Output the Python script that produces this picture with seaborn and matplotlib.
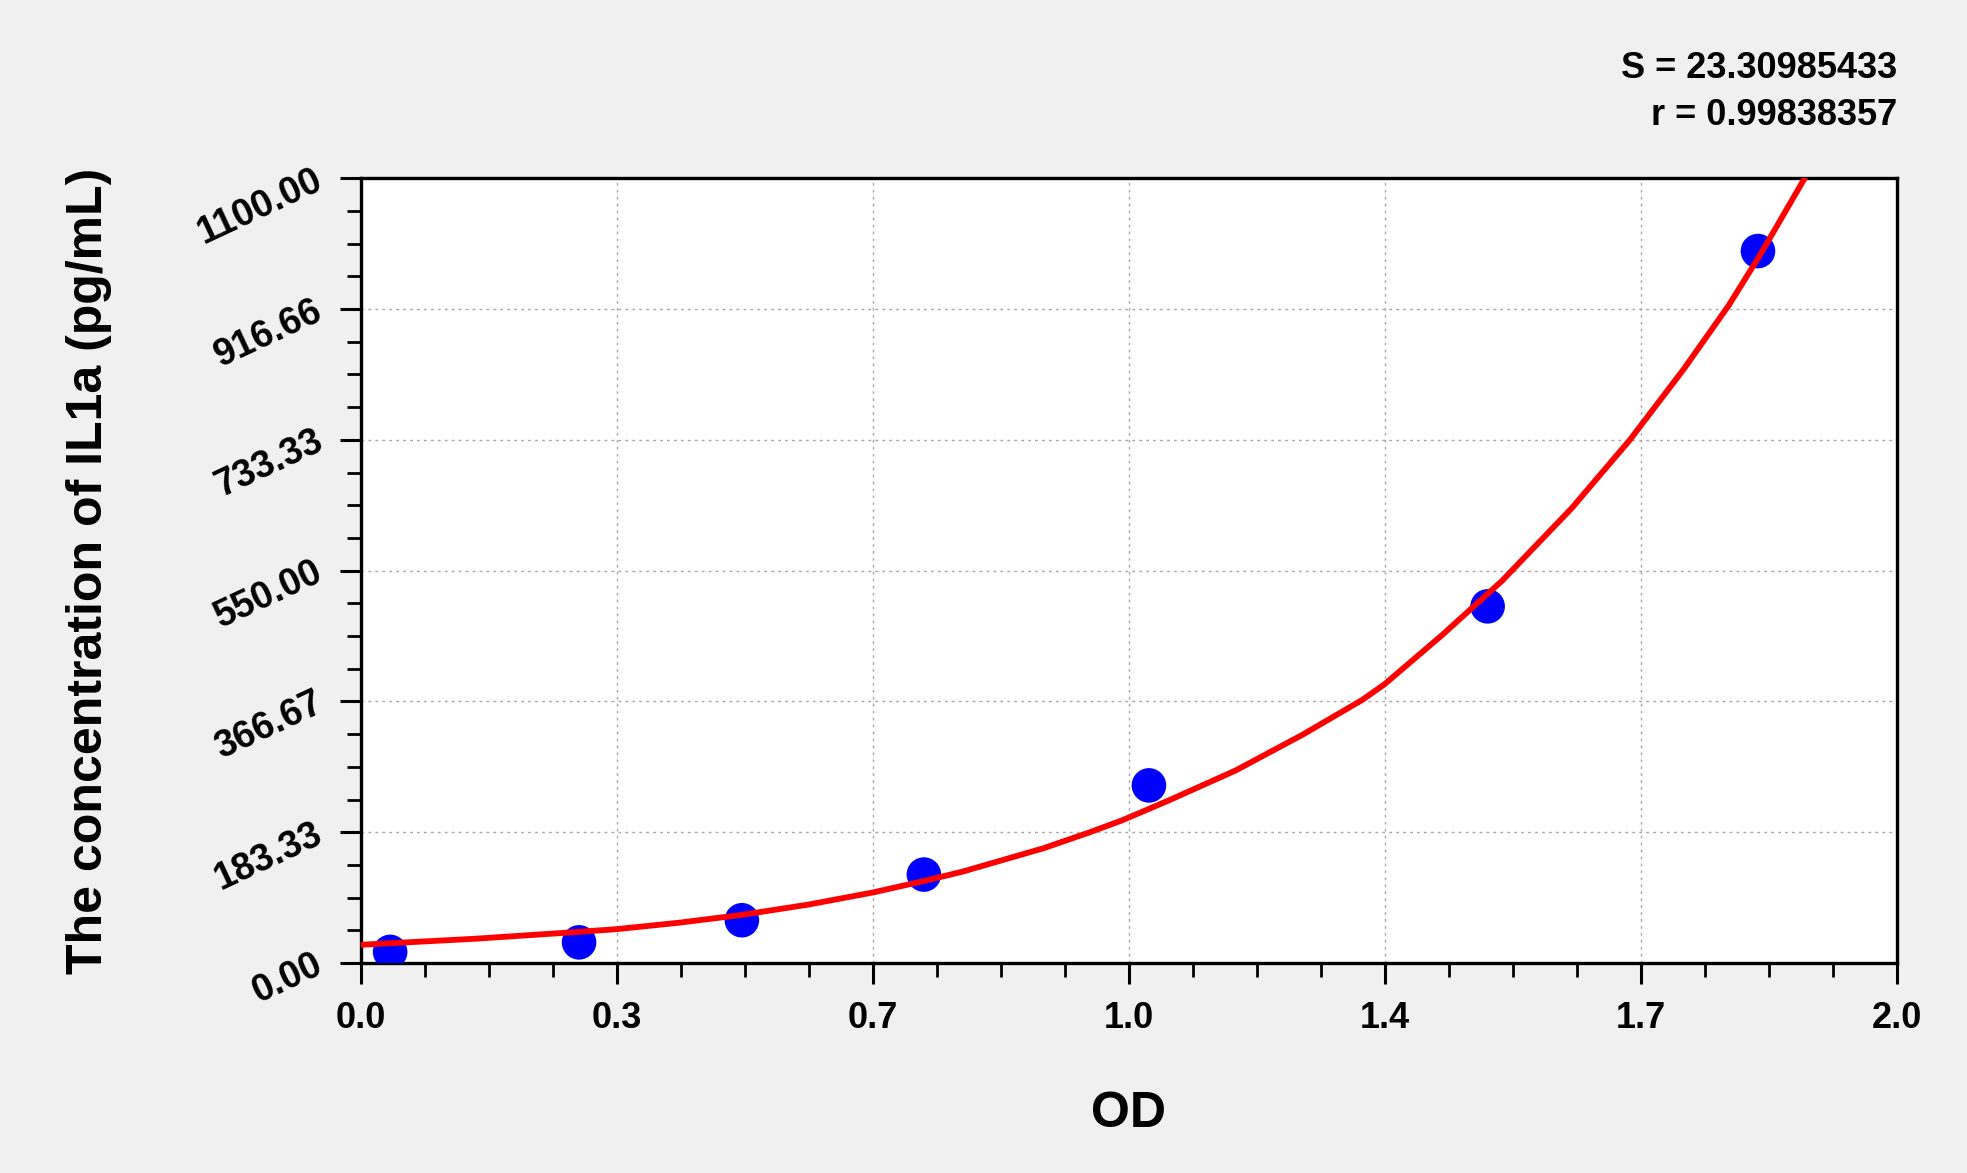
import numpy as np
import pandas as pd
import seaborn as sns
import matplotlib.pyplot as plt
from matplotlib.ticker import MultipleLocator, FixedLocator

# standards
od = [0.038, 0.284, 0.496, 0.733, 1.026, 1.467, 1.819]
conc = [15.6, 29, 60, 124, 249, 500, 998]

# fitted curve
curve_od = [0.0, 0.148, 0.281, 0.333, 0.414, 0.496, 0.583, 0.667, 0.733, 0.783,
            0.889, 0.949, 0.991, 1.052, 1.139, 1.226, 1.304, 1.333, 1.408, 1.486,
            1.576, 1.652, 1.722, 1.781, 1.822, 1.883]
curve_conc = [25.6, 34, 43.5, 47.5, 56.5, 67.5, 82, 99, 115, 128,
              161, 183.3, 200, 228, 270, 320, 369, 391, 460, 536,
              637, 733, 832, 922, 993, 1106]

x_ticks = [0, 1 / 3, 2 / 3, 1, 4 / 3, 5 / 3, 2]
x_labels = ["0.0", "0.3", "0.7", "1.0", "1.4", "1.7", "2.0"]
y_ticks = [0, 183.33, 366.67, 550, 733.33, 916.66, 1100]
y_labels = ["0.00", "183.33", "366.67", "550.00", "733.33", "916.66", "1100.00"]

stats_lines = ["S = 23.30985433", "r = 0.99838357"]

sns.set_style("ticks")
plt.rcParams['font.family'] = ['Liberation Sans', 'DejaVu Sans']
plt.rcParams['font.weight'] = 'bold'
plt.rcParams['text.color'] = 'black'
plt.rcParams['axes.labelcolor'] = 'black'
plt.rcParams['xtick.color'] = 'black'
plt.rcParams['ytick.color'] = 'black'

points = pd.DataFrame({"OD": od, "conc": conc})
fit = pd.DataFrame({"OD": curve_od, "conc": curve_conc})

fig = plt.figure(figsize=(19.67, 11.73), dpi=100, facecolor="#f0f0f0")
ax = fig.add_axes([0.1835, 0.179, 0.7809, 0.669])
ax.set_facecolor("white")

sns.scatterplot(data=points, x="OD", y="conc", ax=ax, s=620, color="#0000ff",
                edgecolor="none", zorder=3)
sns.lineplot(data=fit, x="OD", y="conc", ax=ax, color="#ff0000", linewidth=4.2,
             estimator=None, sort=False, zorder=4)

ax.set_xlim(0, 2)
ax.set_ylim(0, 1100)

ax.xaxis.set_major_locator(FixedLocator(x_ticks))
ax.xaxis.set_minor_locator(MultipleLocator(1 / 12))
ax.yaxis.set_major_locator(FixedLocator(y_ticks))
ax.yaxis.set_minor_locator(MultipleLocator(1100 / 24))
ax.set_xticklabels(x_labels, fontsize=26, fontweight="bold")
ax.set_yticklabels(y_labels, fontsize=27, fontweight="bold", rotation=25,
                   ha="right", va="center", rotation_mode="anchor")

ax.tick_params(which="major", length=15, width=2.2, color="black", pad=12)
ax.tick_params(which="minor", length=10, width=2.0, color="black")
ax.tick_params(axis="y", which="major", pad=14)

for side in ["left", "right", "top", "bottom"]:
    ax.spines[side].set_linewidth(2.4)
    ax.spines[side].set_color("black")

ax.grid(True, which="major", color="#a8a8a8", linestyle=(0, (2, 3)), linewidth=1.0)
ax.set_axisbelow(True)

ax.set_xlabel("OD", fontsize=36, fontweight="bold", labelpad=40)
ax.set_ylabel("The concentration of IL1a (pg/mL)", fontsize=36, fontweight="bold",
              labelpad=58)

for i, line in enumerate(stats_lines):
    fig.text(0.9644, 0.942 - i * 0.0405, line, ha="right", va="center",
             fontsize=26, fontweight="bold")

fig.savefig("out.png", dpi=100, facecolor=fig.get_facecolor())
